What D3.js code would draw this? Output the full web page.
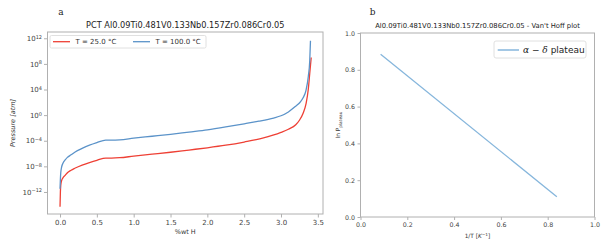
<!DOCTYPE html>
<html lang="en">
<head>
<meta charset="UTF-8">
<title>PCT and Van't Hoff plot</title>
<script src="https://d3js.org/d3.v7.min.js"></script>
<style>
  body, html { margin: 0; padding: 0; background: #fff; }
  svg { display: block; font-family: "DejaVu Sans", sans-serif; }
  .axis path, .axis line { stroke: #b0b0b0; }
  .axis text { fill: #444; font-family: "DejaVu Sans", sans-serif; }
</style>
</head>
<body>
<svg width="610" height="248"></svg>
<script>
// ---- data: PCT curves (wt% H vs log10 of pressure in atm) ----
const wtH25 = [0, 0.005, 0.01, 0.02, 0.04, 0.07, 0.10, 0.15, 0.20, 0.30, 0.40, 0.50, 0.62, 0.70, 0.81,
  1.00, 1.25, 1.50, 1.75, 2.00, 2.25, 2.50, 2.75, 3.00, 3.10, 3.20, 3.25, 3.30, 3.34, 3.37, 3.39, 3.41];
const logP25 = [-14.3, -12.0, -11.0, -10.3, -9.8, -9.4, -9.0, -8.6, -8.3, -7.8, -7.4, -7.05, -6.7, -6.7, -6.65,
  -6.4, -6.1, -5.8, -5.45, -5.1, -4.7, -4.2, -3.6, -2.7, -2.2, -1.5, -0.8, 0.3, 1.8, 4.0, 6.5, 9.0];
const wtH100 = [0, 0.005, 0.01, 0.02, 0.04, 0.07, 0.10, 0.15, 0.20, 0.30, 0.40, 0.50, 0.62, 0.70, 0.81,
  1.00, 1.25, 1.50, 1.75, 2.00, 2.25, 2.50, 2.70, 2.90, 3.00, 3.10, 3.20, 3.25, 3.30, 3.34, 3.37, 3.39, 3.40];
const logP100 = [-11.5, -10.0, -9.0, -8.2, -7.5, -7.0, -6.6, -6.2, -5.8, -5.2, -4.7, -4.3, -3.9, -3.9, -3.85,
  -3.6, -3.3, -3.0, -2.65, -2.3, -1.85, -1.35, -0.95, -0.45, -0.1, 0.5, 1.4, 1.9, 2.7, 3.9, 6.0, 8.5, 11.6];
const pctLabels = ["T = 25.0 °C", "T = 100.0 °C"];
const pctXTicks = [0, 0.5, 1, 1.5, 2, 2.5, 3, 3.5];
const pctYTickExp = [-12, -8, -4, 0, 4, 8, 12];

// ---- data: Van't Hoff line ----
const invT = [0.086, 0.839];
const lnPplateau = [0.884, 0.110];
const vhTicks = [0, 0.2, 0.4, 0.6, 0.8, 1.0];

const red = "#ee4035", blue = "#5b93c9", lightBlue = "#86b6dc";
const svg = d3.select("svg");

// ================= panel a =================
const A = {left: 47.5, right: 323, top: 32, bottom: 214};
const xA = d3.scaleLinear().domain([-0.17, 3.57]).range([A.left, A.right]);
const yA = d3.scaleLog().domain([Math.pow(10, -15.44), Math.pow(10, 12.98)]).range([A.bottom, A.top]);

svg.append("rect")
  .attr("x", A.left).attr("y", A.top)
  .attr("width", A.right - A.left).attr("height", A.bottom - A.top)
  .attr("fill", "none").attr("stroke", "#b0b0b0").attr("stroke-width", 1);

const gxA = svg.append("g").attr("class", "axis")
  .attr("transform", `translate(0,${A.bottom})`)
  .call(d3.axisBottom(xA).tickValues(pctXTicks).tickFormat(d3.format(".1f")).tickSize(3.5).tickPadding(3));
gxA.select(".domain").remove();
gxA.selectAll("text").style("font-size", "7px");

const gyA = svg.append("g").attr("class", "axis")
  .attr("transform", `translate(${A.left},0)`)
  .call(d3.axisLeft(yA).tickValues(pctYTickExp.map(e => Math.pow(10, e))).tickFormat("").tickSize(3.5));
gyA.select(".domain").remove();
gyA.selectAll(".tick").each(function(d, i) {
  const t = d3.select(this).append("text")
    .attr("x", -5.5).attr("dy", "0.32em")
    .attr("text-anchor", "end")
    .style("font-size", "7px");
  t.append("tspan").text("10");
  t.append("tspan").attr("dy", "-0.45em").style("font-size", "5px")
    .text(String(pctYTickExp[i]).replace("-", "\u2212"));
});

const lineA = d3.line().curve(d3.curveMonotoneX).x(d => xA(d[0])).y(d => yA(Math.pow(10, d[1])));
const series = [
  {x: wtH25, y: logP25, color: red},
  {x: wtH100, y: logP100, color: blue}
];
series.forEach(s => {
  svg.append("path")
    .datum(s.x.map((v, i) => [v, s.y[i]]))
    .attr("d", lineA)
    .attr("fill", "none")
    .attr("stroke", s.color)
    .attr("stroke-width", 1.3);
});

// legend a
const legA = svg.append("g");
legA.append("rect").attr("x", 50).attr("y", 35.5).attr("width", 156).attr("height", 12.5).attr("rx", 1.5)
  .attr("fill", "#fff").attr("stroke", "#d8d8d8").attr("stroke-width", 0.8);
[[53, red, pctLabels[0]], [133, blue, pctLabels[1]]].forEach(([lx, c, txt]) => {
  legA.append("line").attr("x1", lx).attr("x2", lx + 17).attr("y1", 41.7).attr("y2", 41.7)
    .attr("stroke", c).attr("stroke-width", 1.3);
  legA.append("text").attr("x", lx + 22.5).attr("y", 41.7).attr("dy", "0.35em")
    .style("font-size", "7px").attr("fill", "#333").text(txt);
});

svg.append("text").attr("x", (A.left + A.right) / 2).attr("y", 28)
  .attr("text-anchor", "middle").style("font-size", "8.2px").attr("fill", "#222")
  .text("PCT Al0.09Ti0.481V0.133Nb0.157Zr0.086Cr0.05");
svg.append("text").attr("x", (A.left + A.right) / 2).attr("y", 233.5)
  .attr("text-anchor", "middle").style("font-size", "6.5px").attr("fill", "#333").text("%wt H");
svg.append("text")
  .attr("transform", `translate(15,${(A.top + A.bottom) / 2}) rotate(-90)`)
  .attr("text-anchor", "middle").style("font-size", "6.5px").style("font-style", "italic")
  .attr("fill", "#333").text("Pressure [atm]");
svg.append("text").attr("x", 61).attr("y", 15)
  .attr("text-anchor", "middle").style("font-family", "'DejaVu Serif', serif").style("font-size", "9px")
  .attr("fill", "#222").text("a");

// ================= panel b =================
const B = {left: 360.5, right: 594.5, top: 33, bottom: 217};
const xB = d3.scaleLinear().domain([0, 1]).range([B.left, B.right]);
const yB = d3.scaleLinear().domain([0, 1]).range([B.bottom, B.top]);

svg.append("rect")
  .attr("x", B.left).attr("y", B.top)
  .attr("width", B.right - B.left).attr("height", B.bottom - B.top)
  .attr("fill", "none").attr("stroke", "#b0b0b0").attr("stroke-width", 1);

const gxB = svg.append("g").attr("class", "axis")
  .attr("transform", `translate(0,${B.bottom})`)
  .call(d3.axisBottom(xB).tickValues(vhTicks).tickFormat(d3.format(".1f")).tickSize(3).tickPadding(2.5));
gxB.select(".domain").remove();
gxB.selectAll("text").style("font-size", "6.3px");

const gyB = svg.append("g").attr("class", "axis")
  .attr("transform", `translate(${B.left},0)`)
  .call(d3.axisLeft(yB).tickValues(vhTicks).tickFormat(d3.format(".1f")).tickSize(3).tickPadding(2.5));
gyB.select(".domain").remove();
gyB.selectAll("text").style("font-size", "6.3px");

svg.append("path")
  .datum(invT.map((v, i) => [v, lnPplateau[i]]))
  .attr("d", d3.line().x(d => xB(d[0])).y(d => yB(d[1])))
  .attr("fill", "none").attr("stroke", lightBlue).attr("stroke-width", 1.3);

// legend b
const legB = svg.append("g");
legB.append("rect").attr("x", 494).attr("y", 41).attr("width", 92).attr("height", 17).attr("rx", 2)
  .attr("fill", "#fff").attr("stroke", "#d8d8d8").attr("stroke-width", 0.8);
legB.append("line").attr("x1", 497.7).attr("x2", 519).attr("y1", 50).attr("y2", 50)
  .attr("stroke", lightBlue).attr("stroke-width", 1.5);
const lt = legB.append("text").attr("x", 523).attr("y", 50).attr("dy", "0.35em")
  .style("font-size", "9px").attr("fill", "#222");
lt.append("tspan").style("font-style", "italic").style("font-family", "'DejaVu Serif', serif").text("α");
lt.append("tspan").text(" \u2212 ");
lt.append("tspan").style("font-style", "italic").style("font-family", "'DejaVu Serif', serif").text("δ");
lt.append("tspan").text(" plateau");

svg.append("text").attr("x", (B.left + B.right) / 2).attr("y", 28)
  .attr("text-anchor", "middle").style("font-size", "6.8px").attr("fill", "#222")
  .text("Al0.09Ti0.481V0.133Nb0.157Zr0.086Cr0.05 - Van't Hoff plot");
const xl = svg.append("text").attr("x", (B.left + B.right) / 2).attr("y", 237.5)
  .attr("text-anchor", "middle").style("font-size", "5.8px").attr("fill", "#333");
xl.append("tspan").text("1/T [");
xl.append("tspan").style("font-style", "italic").text("K");
xl.append("tspan").attr("dy", "-0.45em").style("font-size", "4.3px").text("\u22121");
xl.append("tspan").attr("dy", "0.45em").text("]");
const yl = svg.append("text")
  .attr("transform", `translate(340,${(B.top + B.bottom) / 2}) rotate(-90)`)
  .attr("text-anchor", "middle").style("font-size", "5.8px").attr("fill", "#333");
yl.append("tspan").text("ln P");
yl.append("tspan").attr("dy", "0.35em").style("font-size", "4.3px").text("plateau");
svg.append("text").attr("x", 372.7).attr("y", 15)
  .attr("text-anchor", "middle").style("font-family", "'DejaVu Serif', serif").style("font-size", "9px")
  .attr("fill", "#222").text("b");
</script>
</body>
</html>
